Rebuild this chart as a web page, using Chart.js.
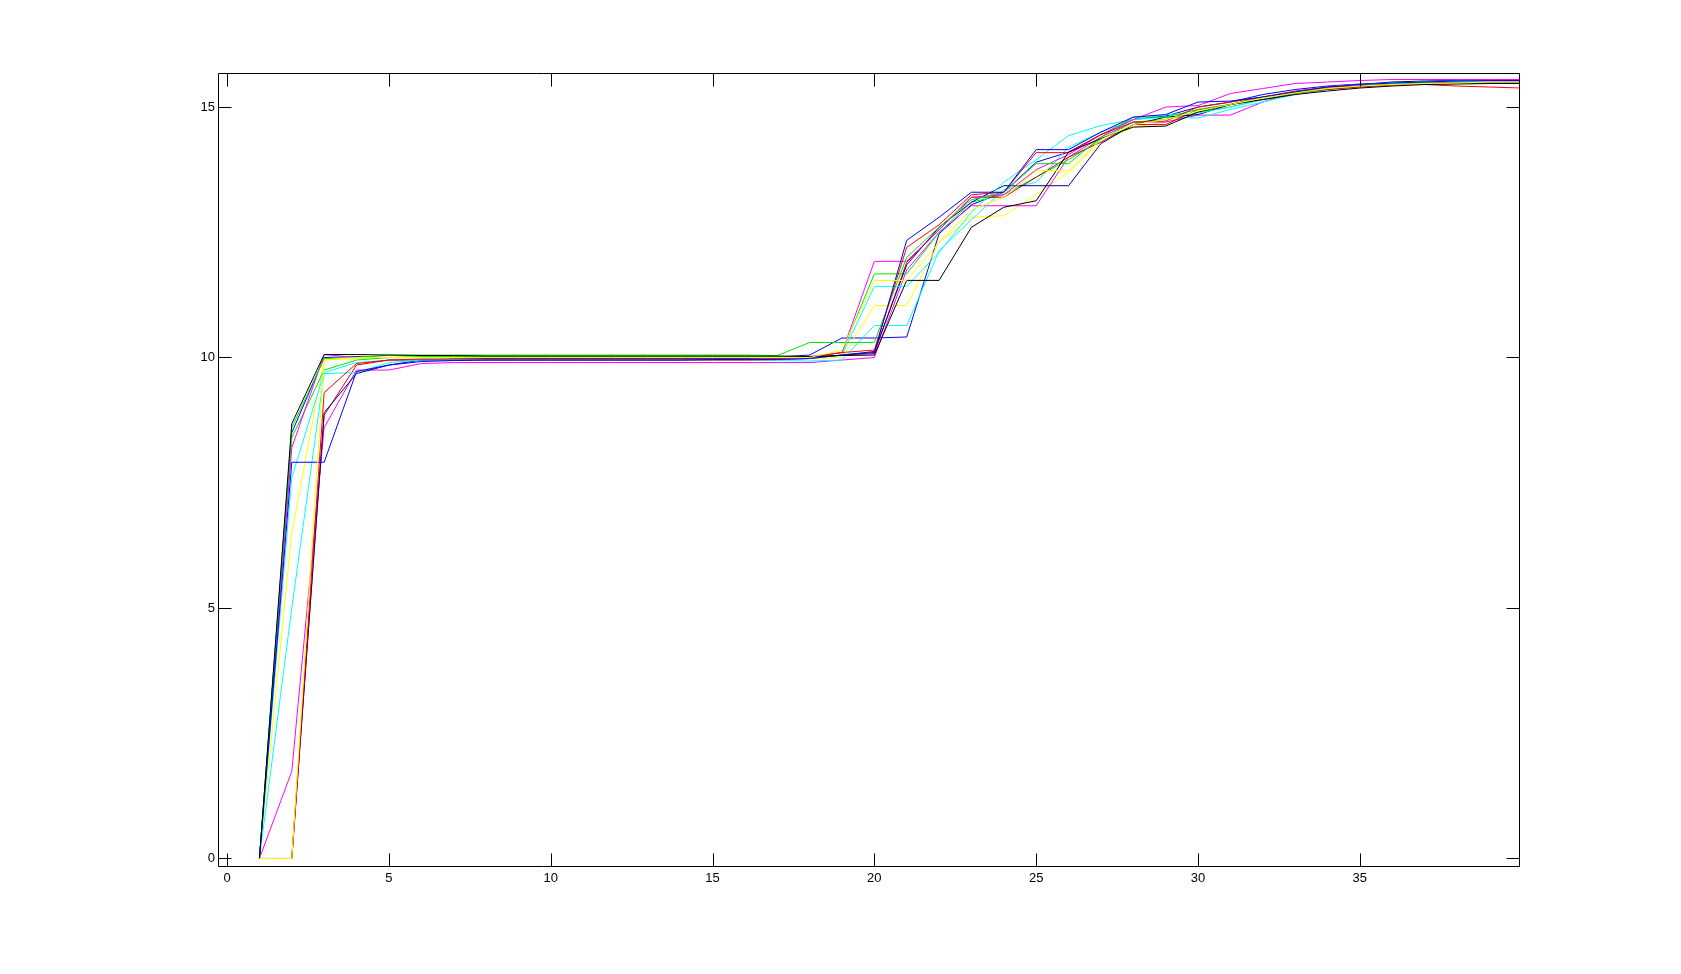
<!DOCTYPE html>
<html>
<head>
<meta charset="utf-8">
<script src="https://cdn.jsdelivr.net/npm/chart.js@4/dist/chart.umd.min.js"></script>
<style>
  html, body { margin: 0; padding: 0; background: #fff; }
  #wrap { width: 1681px; height: 974px; }
</style>
</head>
<body>
<div id="wrap"><canvas id="plot" width="1681" height="974"></canvas></div>
<script>
// iteration index (x axis)
const xs = [1, 2, 3, 4, 5, 6, 7, 8, 9, 10,
  11, 12, 13, 14, 15, 16, 17, 18, 19, 20,
  21, 22, 23, 24, 25, 26, 27, 28, 29, 30,
  31, 32, 33, 34, 35, 36, 37, 38, 39, 40];

const xTicks = [0, 5, 10, 15, 20, 25, 30, 35];
const yTicks = [0, 5, 10, 15];

// one run per line
const runBlack = [0, 8.68, 10.06, 10.06, 10.05, 10.04, 10.04, 10.03, 10.03, 10.03,
  10.03, 10.03, 10.03, 10.03, 10.03, 10.03, 10.03, 10.02, 10.04, 10.05,
  11.54, 11.54, 12.6, 13.0, 13.13, 14.1, 14.37, 14.6, 14.62, 14.9,
  15.05, 15.15, 15.25, 15.32, 15.38, 15.42, 15.45, 15.46, 15.47, 15.47];
const runBlueA = [0, 7.91, 7.91, 9.72, 9.85, 9.92, 9.94, 9.95, 9.95, 9.95,
  9.95, 9.95, 9.95, 9.95, 9.96, 9.96, 9.96, 9.98, 10.05, 10.1,
  12.34, 12.8, 13.3, 13.3, 14.15, 14.15, 14.5, 14.8, 14.85, 15.1,
  15.12, 15.2, 15.3, 15.4, 15.45, 15.48, 15.5, 15.52, 15.53, 15.53];
const runBlueB = [0, 0, 8.9, 9.68, 9.85, 9.95, 9.97, 9.98, 9.98, 9.98,
  9.98, 9.98, 9.98, 9.98, 9.98, 9.98, 9.99, 10.0, 10.05, 10.12,
  11.85, 12.6, 13.1, 13.43, 13.43, 13.43, 14.27, 14.65, 14.8, 14.85,
  15.05, 15.2, 15.3, 15.38, 15.45, 15.5, 15.52, 15.53, 15.54, 15.55];
const runBlueC = [0, 8.5, 10.0, 10.02, 10.0, 10.0, 10.0, 10.0, 10.0, 10.0,
  10.0, 10.0, 10.0, 10.0, 10.0, 10.0, 10.01, 10.05, 10.39, 10.39,
  10.41, 12.47, 13.05, 13.3, 13.9, 14.1, 14.45, 14.75, 14.82, 15.0,
  15.1, 15.25, 15.35, 15.42, 15.46, 15.48, 15.49, 15.5, 15.5, 15.5];
const runGreenA = [0, 8.6, 9.98, 10.0, 10.05, 10.05, 10.05, 10.05, 10.05, 10.05,
  10.05, 10.05, 10.05, 10.05, 10.05, 10.05, 10.04, 10.3, 10.3, 10.3,
  12.0, 12.6, 13.15, 13.3, 13.87, 13.87, 14.4, 14.8, 14.8, 14.95,
  15.05, 15.2, 15.3, 15.38, 15.42, 15.45, 15.47, 15.48, 15.48, 15.48];
const runGreenB = [0, 8.4, 9.75, 9.95, 10.0, 10.02, 10.02, 10.02, 10.02, 10.02,
  10.02, 10.02, 10.02, 10.02, 10.02, 10.02, 10.02, 10.0, 10.1, 11.67,
  11.67, 12.5, 13.1, 13.25, 13.6, 13.95, 14.35, 14.7, 14.75, 14.9,
  15.0, 15.15, 15.27, 15.36, 15.42, 15.46, 15.5, 15.52, 15.53, 15.55];
const runRedA = [0, 0, 9.3, 9.88, 9.95, 9.97, 9.97, 9.97, 9.97, 9.97,
  9.97, 9.97, 9.97, 9.97, 9.97, 9.97, 9.98, 10.0, 10.1, 10.15,
  12.2, 12.65, 13.25, 13.3, 14.09, 14.09, 14.45, 14.7, 14.72, 15.0,
  15.1, 15.2, 15.32, 15.4, 15.42, 15.45, 15.45, 15.42, 15.4, 15.38];
const runRedB = [0, 0, 8.85, 9.85, 9.95, 9.95, 9.95, 9.95, 9.95, 9.95,
  9.95, 9.95, 9.95, 9.95, 9.95, 9.95, 9.96, 9.98, 10.05, 10.08,
  11.9, 12.55, 13.2, 13.2, 13.6, 14.0, 14.3, 14.65, 14.65, 14.95,
  15.05, 15.15, 15.28, 15.35, 15.4, 15.44, 15.46, 15.47, 15.48, 15.48];
const runCyanA = [0, 5.0, 9.68, 9.7, 9.9, 9.95, 9.96, 9.96, 9.96, 9.96,
  9.96, 9.96, 9.96, 9.96, 9.96, 9.96, 9.97, 9.98, 10.05, 11.42,
  11.42, 12.1, 12.9, 13.5, 13.95, 14.43, 14.63, 14.75, 14.85, 14.88,
  15.0, 15.15, 15.3, 15.38, 15.44, 15.48, 15.5, 15.52, 15.53, 15.55];
const runCyanB = [0, 7.6, 9.7, 9.9, 9.95, 9.95, 9.95, 9.95, 9.95, 9.95,
  9.95, 9.95, 9.95, 9.95, 9.95, 9.95, 9.94, 9.93, 9.95, 10.64,
  10.64, 12.13, 12.75, 13.35, 13.5, 14.2, 14.5, 14.75, 14.8, 14.78,
  14.95, 15.1, 15.25, 15.35, 15.42, 15.47, 15.5, 15.52, 15.53, 15.53];
const runMagentaA = [0, 1.74, 8.6, 9.75, 9.75, 9.88, 9.9, 9.9, 9.9, 9.9,
  9.9, 9.9, 9.9, 9.9, 9.9, 9.9, 9.9, 9.9, 9.95, 10.0,
  11.75, 12.5, 13.03, 13.03, 13.03, 14.0, 14.4, 14.7, 14.7, 14.84,
  14.84, 15.1, 15.3, 15.4, 15.45, 15.48, 15.5, 15.5, 15.5, 15.5];
const runMagentaB = [0, 8.2, 10.06, 10.0, 10.0, 10.0, 10.0, 10.0, 10.0, 10.0,
  10.0, 10.0, 10.0, 10.0, 10.0, 10.0, 10.0, 10.02, 10.1, 11.92,
  11.92, 12.55, 13.2, 13.25, 13.75, 14.05, 14.45, 14.75, 15.0, 15.03,
  15.27, 15.37, 15.47, 15.5, 15.53, 15.55, 15.55, 15.55, 15.55, 15.55];
const runYellowA = [0, 0, 9.95, 10.0, 10.0, 10.0, 10.0, 10.0, 10.0, 10.0,
  10.0, 10.0, 10.0, 10.0, 10.0, 10.0, 10.0, 10.0, 10.15, 11.54,
  11.54, 12.3, 12.95, 13.2, 13.73, 13.73, 14.35, 14.65, 14.75, 14.92,
  15.05, 15.18, 15.28, 15.37, 15.42, 15.45, 15.47, 15.48, 15.5, 15.5];
const runYellowB = [0, 6.5, 9.95, 9.98, 10.0, 10.0, 10.0, 10.0, 10.0, 10.0,
  10.0, 10.0, 10.0, 10.0, 10.0, 10.0, 10.0, 9.98, 10.0, 11.04,
  11.04, 12.3, 12.8, 12.83, 13.25, 13.7, 14.3, 14.6, 14.7, 14.9,
  15.05, 15.2, 15.3, 15.4, 15.45, 15.5, 15.52, 15.52, 15.52, 15.52];

// first entry ends up on top
const runs = [
  [runYellowA, '#ffff00'],
  [runBlack, '#000000'],
  [runBlueA, '#0000ff'],
  [runRedA, '#ff0000'],
  [runGreenA, '#00e600'],
  [runMagentaB, '#ff00ff'],
  [runCyanA, '#00ffff'],
  [runBlueB, '#000099'],
  [runRedB, '#dd0000'],
  [runGreenB, '#00e600'],
  [runCyanB, '#00ffff'],
  [runMagentaA, '#ff00ff'],
  [runYellowB, '#ffff00'],
  [runBlueC, '#0000ff'],
];

const TICK_LEN = 13;

// MATLAB style box with inward ticks on all four sides
const boxTicks = {
  id: 'boxTicks',
  afterDatasetsDraw(chart) {
    const { ctx, chartArea: a, scales: { x, y } } = chart;
    const l = Math.round(a.left) + 0.5, r = Math.round(a.right) - 0.5;
    const t = Math.round(a.top) + 0.5, b = Math.round(a.bottom) - 0.5;
    ctx.save();
    ctx.strokeStyle = '#000';
    ctx.lineWidth = 1;
    ctx.beginPath();
    xTicks.forEach(v => {
      const px = Math.round(x.getPixelForValue(v)) + 0.5;
      ctx.moveTo(px, b); ctx.lineTo(px, b - TICK_LEN);
      ctx.moveTo(px, t); ctx.lineTo(px, t + TICK_LEN);
    });
    yTicks.forEach(v => {
      const py = Math.floor(y.getPixelForValue(v)) + 0.5;
      ctx.moveTo(l, py); ctx.lineTo(l + TICK_LEN, py);
      ctx.moveTo(r, py); ctx.lineTo(r - TICK_LEN, py);
    });
    ctx.rect(l, t, r - l, b - t);
    ctx.stroke();
    ctx.restore();
  }
};

const tickFont = { family: 'Liberation Sans, Arial, sans-serif', size: 13 };

new Chart(document.getElementById('plot').getContext('2d'), {
  type: 'line',
  data: {
    datasets: runs.map(([vals, col]) => ({
      data: vals.map((v, i) => ({ x: xs[i], y: v })),
      borderColor: col,
      borderWidth: 1,
      pointRadius: 0,
      fill: false,
      tension: 0,
    })),
  },
  options: {
    responsive: false,
    animation: false,
    devicePixelRatio: 1,
    layout: { padding: { left: 0, top: 73, right: 161, bottom: 0 } },
    plugins: { legend: { display: false }, tooltip: { enabled: false } },
    scales: {
      x: {
        type: 'linear',
        min: -0.28,
        max: 39.95,
        afterBuildTicks: s => { s.ticks = xTicks.map(v => ({ value: v })); },
        afterFit: s => { s.height = 107; },
        grid: { display: false, drawTicks: false },
        border: { display: false },
        ticks: { color: '#000', font: tickFont, padding: 4, maxRotation: 0, autoSkip: false },
      },
      y: {
        type: 'linear',
        min: -0.17,
        max: 15.68,
        afterBuildTicks: s => { s.ticks = yTicks.map(v => ({ value: v })); },
        afterFit: s => { s.width = 218; },
        grid: { display: false, drawTicks: false },
        border: { display: false },
        ticks: { color: '#000', font: tickFont, padding: 3, autoSkip: false },
      },
    },
  },
  plugins: [boxTicks],
});
</script>
</body>
</html>
